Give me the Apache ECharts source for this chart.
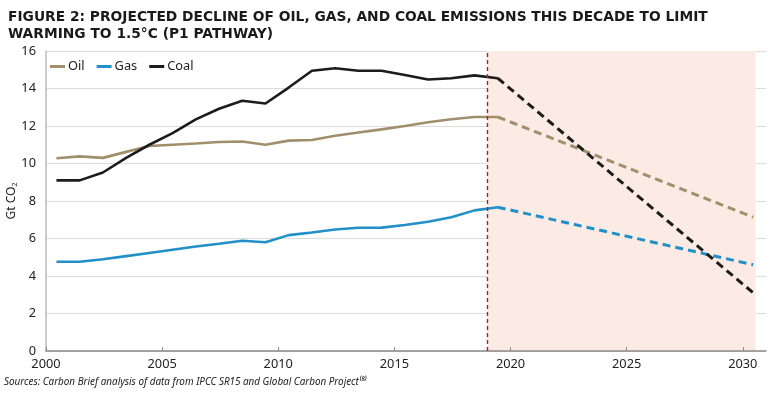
<!DOCTYPE html>
<html><head><meta charset="utf-8">
<script src="https://cdn.jsdelivr.net/npm/echarts@6/dist/echarts.min.js"></script>
<style>html,body{margin:0;padding:0;background:#fff}#c{width:770px;height:394px}</style>
</head><body><div id="c"></div>
<script>
// Historical years and values (Gt CO2)
const histYears = [2000,2001,2002,2003,2004,2005,2006,2007,2008,2009,2010,2011,2012,2013,2014,2015,2016,2017,2018,2019];
const oilHist  = [10.28,10.38,10.3,10.62,10.93,11.0,11.07,11.15,11.17,11.0,11.22,11.25,11.48,11.65,11.82,12.0,12.2,12.36,12.48,12.48];
const gasHist  = [4.76,4.76,4.89,5.06,5.23,5.4,5.57,5.72,5.88,5.8,6.18,6.32,6.48,6.57,6.58,6.72,6.89,7.13,7.5,7.67];
const coalHist = [9.1,9.1,9.52,10.3,11.0,11.62,12.35,12.92,13.35,13.2,14.05,14.95,15.08,14.95,14.95,14.72,14.48,14.55,14.7,14.55];
// Projection (P1 pathway), start and end years
const projYears = [2019,2030];
const oilProj  = [12.48,7.14];
const gasProj  = [7.67,4.6];
const coalProj = [14.55,3.1];
const yTicks = [0,2,4,6,8,10,12,14,16];
const xTicks = [2000,2005,2010,2015,2020,2025,2030];
const dividerYear = 2019;
const shadeEnd = 2030.55;

const OFF = 0.45; // annual values drawn near mid-year
const pts = (ys, vs) => ys.map((y,i)=>[y+OFF, vs[i]]);
const colors = {Oil:'#a08f6a', Gas:'#2190c8', Coal:'#1c1c1c'};

function solid(name, data, extra){
  return Object.assign({name, type:'line', data, symbol:'none', smooth:false,
    lineStyle:{color:colors[name], width:2.6}, itemStyle:{color:colors[name]}, z:3}, extra||{});
}
function dashed(name, data){
  return {name: name+' projection', type:'line', data, symbol:'none',
    lineStyle:{color:colors[name], width:3, type:[8,5]}, itemStyle:{color:colors[name]}, z:3};
}

const chart = echarts.init(document.getElementById('c'), null, {renderer:'canvas'});
chart.setOption({
  animation:false,
  textStyle:{fontFamily:'Noto Sans'},
  title:{
    text:'FIGURE 2: PROJECTED DECLINE OF OIL, GAS, AND COAL EMISSIONS THIS DECADE TO LIMIT\nWARMING TO 1.5°C (P1 PATHWAY)',
    left:3, top:4,
    textStyle:{fontFamily:'DejaVu Sans', fontWeight:'bold', fontSize:13.8, color:'#1a1a1a', lineHeight:17}
  },
  graphic:[{
    type:'text', left:4, top:377,
    style:{text:'Sources: Carbon Brief analysis of data from IPCC SR15 and Global Carbon Project⁽⁸⁾',
      fontFamily:'Noto Sans', fontStyle:'italic', fontSize:9.9, fill:'#222'}
  }],
  legend:{
    data:['Oil','Gas','Coal'], left:45, top:55, icon:'rect', itemWidth:15, itemHeight:3, itemGap:12,
    textStyle:{fontFamily:'Noto Sans', fontSize:12.8, color:'#222', padding:[0,0,0,-2]}
  },
  grid:{left:46, right:4, top:51, bottom:43, containLabel:false, outerBoundsMode:'none'},
  xAxis:{
    type:'value', min:2000, max:2031, interval:5,
    axisLine:{show:true, lineStyle:{color:'#8a8a8a', width:1.5}},
    axisTick:{show:true, inside:true, length:4, lineStyle:{color:'#8a8a8a'}},
    axisLabel:{showMaxLabel:false, formatter:v=>xTicks.includes(v)?String(v):'', color:'#222', fontSize:12.8, fontFamily:'Noto Sans', margin:7},
    splitLine:{show:false}
  },
  yAxis:{
    type:'value', min:0, max:16, interval:2,
    name:'Gt CO{s|2}', nameLocation:'middle', nameGap:28, nameRotate:90, nameMoveOverlap:false,
    nameTextStyle:{color:'#222', fontSize:12, fontFamily:'Noto Sans', rich:{s:{fontSize:7, padding:[6,0,0,0], fontFamily:'Noto Sans'}}},
    axisLine:{show:true, lineStyle:{color:'#bbb', width:1.5}},
    axisTick:{show:false},
    axisLabel:{formatter:v=>yTicks.includes(v)?String(v):'', color:'#222', fontSize:12.8, fontFamily:'Noto Sans', margin:10},
    splitLine:{show:true, lineStyle:{color:'#dcdcdc', width:1.2}}
  },
  series:[
    solid('Oil', pts(histYears, oilHist), {
      markArea:{silent:true, itemStyle:{color:'#fcebe4'}, data:[[{xAxis:dividerYear},{xAxis:shadeEnd}]], z:0},
      markLine:{silent:true, symbol:'none', label:{show:false},
        lineStyle:{color:'#a4232f', width:1.4, type:[4,3]}, data:[{xAxis:dividerYear}]}
    }),
    solid('Gas', pts(histYears, gasHist)),
    solid('Coal', pts(histYears, coalHist)),
    dashed('Oil', pts(projYears, oilProj)),
    dashed('Gas', pts(projYears, gasProj)),
    dashed('Coal', pts(projYears, coalProj))
  ]
});
</script></body></html>
